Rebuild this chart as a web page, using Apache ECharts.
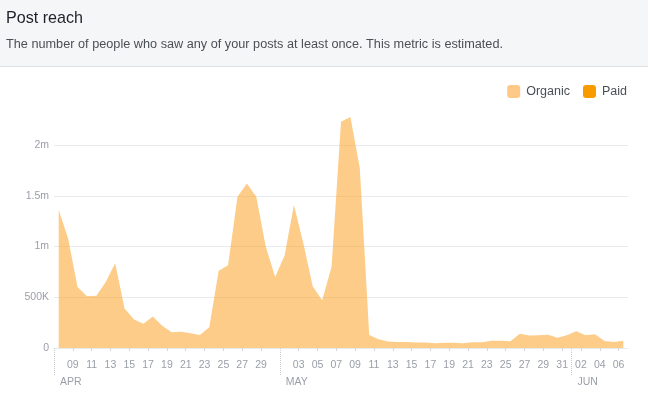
<!DOCTYPE html>
<html>
<head>
<meta charset="utf-8">
<script src="https://cdn.jsdelivr.net/npm/echarts@6/dist/echarts.min.js"></script>
<style>
  html, body { margin: 0; padding: 0; background: #ffffff; }
  #chart { width: 648px; height: 394px; }
</style>
</head>
<body>
<div id="chart"></div>
<script>
// ---- data ----
const startYear = 2024;
const dayCount = 61;
// categories: one per day, Apr 07 .. Jun 06
const categories = [];
for (let i = 0; i < dayCount; i++) {
  const d = new Date(Date.UTC(startYear, 3, 7 + i));
  categories.push(String(d.getUTCMonth() + 1).padStart(2, '0') + '-' + String(d.getUTCDate()).padStart(2, '0'));
}
const organic = [
  1360000, 1080000, 600000, 510000, 515000, 650000, 835000, 390000, 280000, 240000,
  310000, 220000, 155000, 160000, 145000, 128000, 205000, 760000, 815000, 1490000,
  1620000, 1490000, 1000000, 700000, 910000, 1410000, 1030000, 605000, 470000, 800000,
  2230000, 2275000, 1770000, 128000, 85000, 65000, 58000, 58000, 54000, 54000,
  48000, 52000, 52000, 48000, 57000, 57000, 72000, 72000, 66000, 140000,
  122000, 125000, 130000, 100000, 125000, 166000, 125000, 135000, 70000, 60000,
  72000
];
const paid = [
  0,0,0,0,0,0,0,0,0,0, 0,0,0,0,0,0,0,0,0,0, 0,0,0,0,0,0,0,0,0,0,
  0,0,0,0,0,0,0,0,0,0, 0,0,0,0,0,0,0,0,0,0, 0,0,0,0,0,0,0,0,0,0, 0
];
const tickDates = [
  '04-09','04-11','04-13','04-15','04-17','04-19','04-21','04-23','04-25','04-27','04-29',
  '05-03','05-05','05-07','05-09','05-11','05-13','05-15','05-17','05-19','05-21','05-23',
  '05-25','05-27','05-29','05-31','06-02','06-04','06-06'
];
const monthDates = ['04-07', '05-01', '06-01'];
const monthLabels = ['APR', 'MAY', 'JUN'];
const yTickLabels = { 0: '0', 500000: '500K', 1000000: '1m', 1500000: '1.5m', 2000000: '2m' };
const seriesNames = ['Organic', 'Paid'];
const titleText = 'Post reach';
const subtitleText = 'The number of people who saw any of your posts at least once. This metric is estimated.';

// ---- helpers ----
const DAY = 86400000;
const startUTC = Date.UTC(startYear, 3, 7);
function offset(mmdd) {
  const [m, d] = mmdd.split('-').map(Number);
  return Math.round((Date.UTC(startYear, m - 1, d) - startUTC) / DAY);
}
const tickOffsets = tickDates.map(offset);
const tickLabelMap = {};
tickDates.forEach((t, i) => { tickLabelMap[tickOffsets[i]] = t.slice(3); });
const monthOffsets = monthDates.map(offset);
const monthLabelMap = {};
monthOffsets.forEach((o, i) => { monthLabelMap[o] = monthLabels[i]; });

const organicData = categories.map((c, i) => [offset(c) + 0.5, organic[i]]);
const paidData = categories.map((c, i) => [offset(c) + 0.5, paid[i]]);

function fitScale(text, font, target) {
  const ctx = document.createElement('canvas').getContext('2d');
  ctx.font = font;
  const w = ctx.measureText(text).width;
  return w > 0 ? target / w : 1;
}
const FONT = '"Liberation Sans", Arial, Helvetica, sans-serif';
const titleFont = '17px ' + FONT;
const subFont = '12.5px ' + FONT;
const titleScale = fitScale(titleText, titleFont, 77);
const subScale = fitScale(subtitleText, subFont, 497);

const labelColor = '#9a9ea8';

const chart = echarts.init(document.getElementById('chart'), null, { renderer: 'canvas' });
chart.setOption({
  animation: false,
  backgroundColor: '#ffffff',
  textStyle: { fontFamily: FONT },
  graphic: [
    { type: 'rect', shape: { x: 0, y: 0, width: 648, height: 66 }, style: { fill: '#f5f6f7' }, z: 0 },
    { type: 'line', shape: { x1: 0, y1: 66.5, x2: 648, y2: 66.5 }, style: { stroke: '#dddfe2', lineWidth: 1 }, z: 1 },
    { type: 'text', x: 6, y: 18.5, scaleX: titleScale, style: { text: titleText, font: titleFont, fill: '#1d2129', verticalAlign: 'middle' }, z: 2 },
    { type: 'text', x: 6, y: 45, scaleX: subScale, style: { text: subtitleText, font: subFont, fill: '#4b4f56', verticalAlign: 'middle' }, z: 2 }
  ],
  legend: {
    data: seriesNames,
    right: 21,
    top: 85,
    padding: 0,
    itemWidth: 13,
    itemHeight: 13,
    itemGap: 13,
    icon: 'roundRect',
    textStyle: { fontSize: 12.5, color: '#4b4f56', padding: [0, 0, 0, 1] }
  },
  grid: { left: 54, right: 20, top: 94.25, bottom: 46 },
  xAxis: [
    {
      type: 'value', min: 0, max: dayCount, position: 'bottom',
      axisLine: { show: false },
      splitLine: { show: false },
      axisTick: { show: true, customValues: tickOffsets, length: 3, lineStyle: { color: '#d3d6db' } },
      axisLabel: {
        customValues: tickOffsets, margin: 12, fontSize: 10.5, color: labelColor,
        formatter: v => tickLabelMap[Math.round(v)] || ''
      }
    },
    {
      type: 'value', min: 0, max: dayCount, position: 'bottom',
      axisLine: { show: false },
      splitLine: { show: false },
      axisTick: { show: true, customValues: monthOffsets, length: 28, lineStyle: { color: '#c8cbd0', type: 'dotted' } },
      axisLabel: {
        customValues: monthOffsets, margin: 29, fontSize: 10.5, color: labelColor, align: 'left',
        padding: [0, 0, 0, 6],
        formatter: v => monthLabelMap[Math.round(v)] || ''
      }
    }
  ],
  yAxis: {
    type: 'value', min: 0, max: 2500000, interval: 500000,
    axisLine: { show: false },
    axisTick: { show: false },
    splitLine: { show: true, showMaxLine: false, lineStyle: { color: '#e9eaed' } },
    axisLabel: {
      margin: 5, fontSize: 10.5, color: labelColor, showMaxLabel: false,
      formatter: v => (yTickLabels[v] !== undefined ? yTickLabels[v] : '')
    }
  },
  series: [
    {
      name: seriesNames[0], type: 'line', stack: 'reach', data: organicData,
      symbol: 'none', color: '#fec987',
      lineStyle: { width: 0 },
      areaStyle: { color: 'rgba(250,167,50,0.58)', opacity: 1 },
      z: 3
    },
    {
      name: seriesNames[1], type: 'line', stack: 'reach', data: paidData,
      symbol: 'none', color: '#f89b00',
      lineStyle: { width: 0 },
      areaStyle: { color: '#f89b00', opacity: 1 },
      z: 3
    }
  ]
});
</script>
</body>
</html>
